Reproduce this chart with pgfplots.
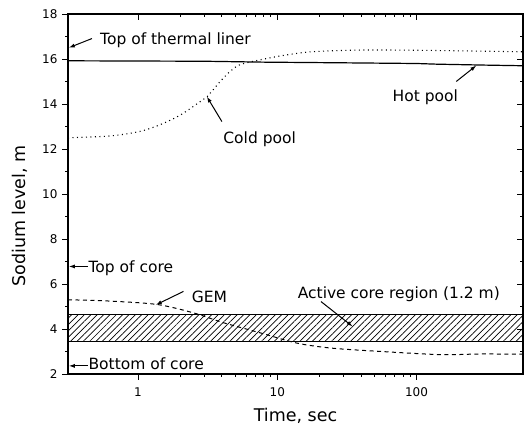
\documentclass[border=0pt]{standalone}
\usepackage{fontspec}
\setmainfont{DejaVu Sans}
\usepackage{pgfplots}
\pgfplotsset{compat=1.18}
\usetikzlibrary{patterns.meta,arrows.meta}

\begin{document}
\begin{tikzpicture}
\begin{axis}[name=main,
  scale only axis, width=455pt, height=360pt,
  xmode=log, xmin=0.314, xmax=582, ymin=2, ymax=18,
  xtick={1,10,100}, ytick={2,4,...,18}, minor ytick={3,5,...,17},
  major tick length=6pt, minor tick length=3pt,
  axis line style={line width=1.1pt},
  every tick/.style={black, line width=0.9pt},
  tick align=outside, xtick pos=left, ytick pos=left,
  xticklabels={1,10,100},
  /pgf/number format/assume math mode=true,
  ticklabel style={font=\fontsize{12}{14}\selectfont},
  xticklabel style={yshift=-4pt},
  yticklabel style={xshift=-1pt},
  every axis x label/.style={at={(axis description cs:0.5,0)}, yshift=-42pt, anchor=center},
  every axis y label/.style={at={(axis description cs:0,0.5)}, xshift=-48pt, yshift=-22pt, anchor=center, rotate=90},
  label style={font=\fontsize{17.5}{20}\selectfont},
  xlabel={Time, sec}, ylabel={Sodium level, m},
]
% active core region band
\addplot[draw=none, pattern={Lines[angle=45,distance=4.5pt,line width=0.7pt]}]
  coordinates {(0.314,3.45) (582,3.45) (582,4.65) (0.314,4.65)} -- cycle;
\addplot[black, line width=1pt] coordinates {(0.314,4.65) (582,4.65)};
\addplot[black, line width=1pt] coordinates {(0.314,3.45) (582,3.45)};
% hot pool
\addplot[black, line width=1.2pt] coordinates {
  (0.314,15.92) (3,15.9) (8,15.86) (30,15.83) (100,15.8) (140,15.77) (300,15.73) (582,15.7)};
% cold pool
\addplot[black, line width=1.1pt, dash pattern=on 1pt off 3.5pt, smooth] coordinates {
  (0.314,12.5) (0.63,12.58) (1.03,12.78) (1.44,13.08) (2.0,13.5) (2.79,14.1)
  (3.14,14.33) (3.89,15.0) (4.59,15.45) (5.42,15.75) (8.06,16.0) (12.2,16.2)
  (18.5,16.33) (42,16.4) (128,16.38) (582,16.32)};
% GEM
\addplot[black, line width=1pt, dash pattern=on 4pt off 3.5pt, smooth] coordinates {
  (0.314,5.3) (0.63,5.24) (1.37,5.09) (2.49,4.72) (4,4.3) (6.4,3.95) (8.06,3.78)
  (13.9,3.37) (24.5,3.15) (56,3.0) (150,2.86) (290,2.89) (582,2.88)};
% annotations
\draw[line width=1pt, -{Latex[length=6pt,width=4pt]}] (axis cs:0.467,16.91) -- (axis cs:0.318,16.5);
\node[font=\fontsize{15.5}{18}\selectfont, inner sep=0pt, anchor=west] at (axis cs:0.533,16.85) {Top of thermal liner};
\node[font=\fontsize{15.5}{18}\selectfont, inner sep=0pt, anchor=west] at (axis cs:67.2,14.3) {Hot pool};
\draw[line width=1pt, -{Latex[length=6pt,width=4pt]}] (axis cs:193,15.0) -- (axis cs:269,15.71);
\node[font=\fontsize{15.5}{18}\selectfont, inner sep=0pt, anchor=west] at (axis cs:4.09,12.45) {Cold pool};
\draw[line width=1pt, -{Latex[length=6pt,width=4pt]}] (axis cs:4.0,13.22) -- (axis cs:3.12,14.33);
\node[font=\fontsize{15.5}{18}\selectfont, inner sep=0pt, anchor=west] at (axis cs:0.44,6.7) {Top of core};
\draw[line width=1pt, -{Latex[length=6pt,width=4pt]}] (axis cs:0.435,6.78) -- (axis cs:0.318,6.78);
\node[font=\fontsize{15.5}{18}\selectfont, inner sep=0pt, anchor=west] at (axis cs:2.43,5.42) {GEM};
\draw[line width=1pt, -{Latex[length=6pt,width=4pt]}] (axis cs:2.12,5.67) -- (axis cs:1.34,5.07);
\node[font=\fontsize{15.5}{18}\selectfont, inner sep=0pt, anchor=west] at (axis cs:14.0,5.55) {Active core region (1.2 m)};
\draw[line width=1pt, -{Latex[length=6pt,width=4pt]}] (axis cs:20.6,5.22) -- (axis cs:34.8,4.11);
\node[font=\fontsize{15.5}{18}\selectfont, inner sep=0pt, anchor=west] at (axis cs:0.44,2.45) {Bottom of core};
\draw[line width=1pt, -{Latex[length=6pt,width=4pt]}] (axis cs:0.435,2.36) -- (axis cs:0.318,2.36);
\end{axis}
\begin{axis}[
  scale only axis, width=455pt, height=360pt,
  xmode=log, xmin=0.314, xmax=582, ymin=2, ymax=18,
  xtick={1,10,100}, ytick={2,4,...,18}, minor ytick={3,5,...,17},
  major tick length=6pt, minor tick length=3pt,
  axis line style={line width=1.1pt},
  every tick/.style={black, line width=0.9pt},
  tick align=inside, xtick pos=right, ytick pos=right,
  xticklabels={}, yticklabels={},
]
\addplot[draw=none] coordinates {(1,10)};
\end{axis}
\pgfresetboundingbox
\path (main.south west) +(-68pt,-57pt) (main.north east) +(5pt,14pt);
\end{tikzpicture}
\end{document}
